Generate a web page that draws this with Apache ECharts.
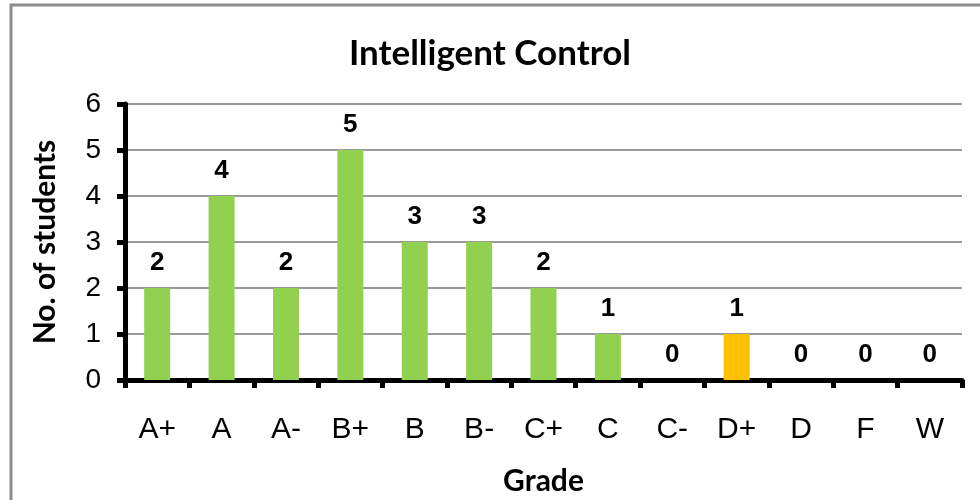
<!DOCTYPE html>
<html>
<head>
<meta charset="utf-8">
<title>Intelligent Control</title>
<script src="https://cdn.jsdelivr.net/npm/echarts@6/dist/echarts.min.js"></script>
<style>
  html, body { margin: 0; padding: 0; background: #fff; }
  #chart { width: 980px; height: 500px; }
</style>
</head>
<body>
<div id="chart"></div>
<script>
// Grade distribution data
const grades   = ["A+", "A", "A-", "B+", "B", "B-", "C+", "C", "C-", "D+", "D", "F", "W"];
const students = [2, 4, 2, 5, 3, 3, 2, 1, 0, 1, 0, 0, 0];
const yTicks   = [0, 1, 2, 3, 4, 5, 6];
const flagged  = "D+"; // bar drawn in orange

const chart = echarts.init(document.getElementById("chart"));

const barData = students.map((v, i) => ({
  value: v,
  itemStyle: { color: grades[i] === flagged ? "#FFC000" : "#92D050" },
}));

const option = {
  backgroundColor: "#fff",
  animation: false,
  title: {
    text: "Intelligent Control",
    left: "center",
    top: 31,
    textStyle: { fontFamily: "Lato", fontWeight: "bold", fontSize: 35, color: "#000" },
  },
  graphic: [{
    type: "rect",
    shape: { x: 11, y: 5, width: 1000, height: 600 },
    style: { fill: null, stroke: "#8c8c8c", lineWidth: 3 },
    silent: true,
  }],
  grid: { left: 125, right: 18, top: 104, bottom: 120, outerBoundsMode: "none", containLabel: false },
  xAxis: {
    type: "category",
    data: grades,
    name: "Grade",
    nameLocation: "middle",
    nameGap: 86,
    nameTextStyle: { fontFamily: "Lato", fontWeight: "bold", fontSize: 30, color: "#000" },
    axisLine: { lineStyle: { color: "#000", width: 5 } },
    axisTick: { show: true, length: 8, lineStyle: { color: "#000", width: 5 } },
    axisLabel: { fontFamily: "Liberation Sans", fontSize: 30, color: "#000", margin: 35 },
  },
  yAxis: {
    type: "value",
    min: yTicks[0],
    max: yTicks[yTicks.length - 1],
    interval: 1,
    name: "No. of students",
    nameLocation: "middle",
    nameGap: 65,
    nameTextStyle: { fontFamily: "Lato", fontWeight: "bold", fontSize: 30, color: "#000" },
    axisLine: { show: true, lineStyle: { color: "#000", width: 5 } },
    axisTick: { show: true, length: 8, lineStyle: { color: "#000", width: 5 } },
    axisLabel: { fontFamily: "Liberation Sans", fontSize: 28, color: "#000", margin: 24 },
    splitLine: { lineStyle: { color: "#9a9a9a", width: 2 } },
  },
  series: [{
    type: "bar",
    data: barData,
    barWidth: 26,
    label: {
      show: true,
      position: "top",
      distance: 12,
      fontFamily: "Liberation Sans",
      fontWeight: "bold",
      fontSize: 26,
      color: "#000",
    },
  }],
};

chart.setOption(option);
</script>
</body>
</html>
